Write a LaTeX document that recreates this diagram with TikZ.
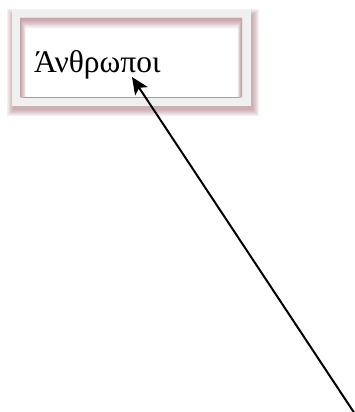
\documentclass[tikz,border=0pt]{standalone}
\usepackage{fontspec}
\setmainfont{Liberation Serif}
\usetikzlibrary{arrows.meta}
\definecolor{framegray}{RGB}{240,240,240}
\definecolor{rosy}{RGB}{150,85,95}
\tikzset{
  label text/.style={font=\fontsize{31.5}{36}\selectfont, inner sep=0pt, anchor=base west},
  pointer/.style={line width=2pt, -{Stealth[length=17pt,width=15pt,inset=4pt]}},
}
\begin{document}
\begin{tikzpicture}[x=1pt, y=-1pt]
  \useasboundingbox (0,0) rectangle (354,412);
  % soft drop shadow behind the frame
  \foreach \g in {0,...,6}{
    \fill[rosy, opacity=0.085] ({13-\g},{15-\g}) rectangle ({253+\g},{110+\g});
  }
  % light frame
  \fill[framegray] (12,10) rectangle (251,106);
  \fill[white] (20,18) rectangle (242,97);
  % inset shadow along the top and sides of the opening
  \begin{scope}
    \clip (20,18) rectangle (242,97);
    \foreach \g in {0,...,7}{
      \fill[rosy, opacity=0.1, even odd rule]
        (20,18) rectangle (242,97)
        ({20+0.8*\g},{18+1.4*\g}) rectangle ({242-0.6*\g},140);
    }
  \end{scope}
  % label and connector
  \node[label text] (people) at (34,72) {Άνθρωποι};
  \coordinate (tip) at (132,77);
  \coordinate (tail) at (355,414);
  \draw[pointer] (tail) -- (tip);
\end{tikzpicture}
\end{document}
